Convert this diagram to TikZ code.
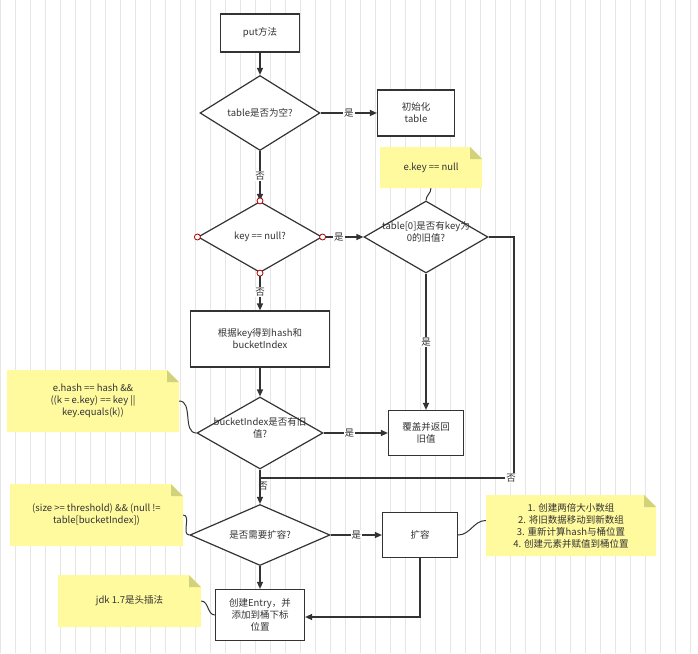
\documentclass[tikz,border=0pt]{standalone}
\usepackage{fontspec}
\setmainfont{Noto Sans CJK SC}
\usetikzlibrary{shapes.geometric,arrows.meta}
\definecolor{ln}{HTML}{333333}
\definecolor{notec}{HTML}{FFFA9E}
\definecolor{foldc}{HTML}{D2D27A}
\definecolor{gridc}{HTML}{E6E6E6}
\tikzset{
  every node/.style={font=\fontsize{9.5}{12}\selectfont, text=ln},
  box/.style={draw=ln, line width=1.2pt, fill=white, align=center, inner sep=0},
  dia/.style={diamond, draw=ln, line width=1.2pt, fill=white, inner sep=0, aspect=1.7},
  ar/.style={draw=ln, line width=1.2pt, -{Triangle[length=7pt,width=6pt]}},
  pl/.style={draw=ln, line width=1.2pt},
  lab/.style={fill=white, inner sep=1pt},
  note/.style={align=center, inner sep=0},
  cur/.style={draw=ln, line width=1pt},
  dot/.style={circle, draw=red!70!black, fill=white, minimum size=6pt, inner sep=0, line width=0.8pt}
}
\newcommand{\mknote}[5]{% name, L, T, R, B
  \fill[notec] (#2,#3) -- (#4-12,#3) -- (#4,#3+12) -- (#4,#5) -- (#2,#5) -- cycle;
  \fill[foldc] (#4-12,#3) -- (#4-12,#3+12) -- (#4,#3+12) -- cycle;
  \coordinate (#1) at ({(#2+#4)/2},{(#3+#5)/2});
}
\begin{document}
\begin{tikzpicture}[x=1pt,y=-1pt]
\useasboundingbox (0,0) rectangle (698,653);
\fill[white] (0,0) rectangle (698,653);
\draw[gridc, line width=0.5pt, step=15] (0,0) grid (698,653);

% notes
\mknote{n1}{380}{147}{482}{188}
\node[note] (t1) at (n1) {e.key == null};
\node[minimum width=102pt, minimum height=41pt, inner sep=0] (nb1) at (n1) {};
\mknote{n2}{7}{370}{179}{432}
\node[note] (t2) at (n2) {e.hash == hash \&\&\\((k = e.key) == key ||\\key.equals(k))};
\node[minimum width=172pt, minimum height=62pt, inner sep=0] (nb2) at (n2) {};
\mknote{n3}{10}{484}{183}{546}
\node[note] (t3) at (n3) {(size >= threshold) \&\& (null !=\\table[bucketIndex])};
\node[minimum width=173pt, minimum height=62pt, inner sep=0] (nb3) at (n3) {};
\mknote{n4}{486}{495}{656}{556}
\node[note] (t4) at (n4) {1. 创建两倍大小数组\\2. 将旧数据移动到新数组\\3. 重新计算hash与桶位置\\4. 创建元素并赋值到桶位置};
\node[minimum width=170pt, minimum height=61pt, inner sep=0] (nb4) at (n4) {};
\mknote{n5}{58}{575}{201}{627}
\node[note] (t5) at (n5) {jdk 1.7是头插法};
\node[minimum width=143pt, minimum height=52pt, inner sep=0] (nb5) at (n5) {};

% boxes
\node[box, minimum width=79pt, minimum height=38pt] (put) at (260,33) {put方法};
\node[box, minimum width=77pt, minimum height=46pt] (init) at (416,113) {初始化\\table};
\node[box, minimum width=139pt, minimum height=56pt] (hash) at (260,339) {根据key得到hash和\\bucketIndex};
\node[box, minimum width=75pt, minimum height=45pt] (cover) at (426,433) {覆盖并返回\\旧值};
\node[box, minimum width=75pt, minimum height=45pt] (resize) at (420,535) {扩容};
\node[box, minimum width=89pt, minimum height=51pt] (entry) at (260,615) {创建Entry，并\\添加到桶下标\\位置};

% diamonds
\node[dia, minimum width=120pt, minimum height=75pt] (d1) at (260,113) {};
\node at (d1) {table是否为空?};
\node[dia, minimum width=124pt, minimum height=71pt] (d2) at (260,237) {};
\node at (d2) {key == null?};
\node[dia, minimum width=124pt, minimum height=72pt] (d3) at (426,237) {};
\node[align=center] at (426,232) {table[0]是否有key为\\0的旧值?};
\node[dia, minimum width=126pt, minimum height=72pt] (d4) at (260,433) {};
\node[align=center] at (260,428) {bucketIndex是否有旧\\值?};
\node[dia, minimum width=140pt, minimum height=61pt] (d5) at (260,535) {};
\node at (d5) {是否需要扩容?};

% connectors
\draw[ar] (put) -- (d1);
\draw[ar] (d1) -- node[lab]{是} (init);
\draw[ar] (d1) -- node[lab]{否} (d2);
\draw[ar] (d2) -- node[lab,pos=0.4]{是} (d3);
\draw[ar] (d2) -- node[lab,pos=0.5]{否} (hash);
\draw[ar] (d3) -- node[lab]{是} (cover);
\coordinate (c1) at (514,237);
\coordinate (c2) at (514,478);
\coordinate (c3) at (260,478);
\draw[pl] (d3.east) -- (c1) -- (c2) -- (c3);
\node[lab] at (511,478) {否};
\draw[ar] (hash) -- (d4);
\draw[ar] (d4) -- node[lab,pos=0.4]{是} (cover);
\draw[ar] (d4) -- (d5);
\node[inner sep=0] at (263,486) {否};
\draw[ar] (d5) -- node[lab,pos=0.5]{是} (resize);
\draw[ar] (d5) -- (entry);
\coordinate (c4) at (420,617);
\draw[ar] (resize.south) -- (c4) -- (entry.east |- c4);

% note links
\draw[cur] (nb1.south) to[out=-90,in=90] (d3.north);
\draw[cur] (nb2.east) to[out=0,in=180] (d4.west);
\draw[cur] (nb3.east) to[out=0,in=180] (d5.west);
\draw[cur] (resize.east) to[out=0,in=180] ([yshift=5]nb4.west);
\draw[cur] (nb5.east) to[out=0,in=180] (entry.west);

% dots
\foreach \a in {north,south,east,west} \node[dot] at (d2.\a) {};
\end{tikzpicture}
\end{document}
